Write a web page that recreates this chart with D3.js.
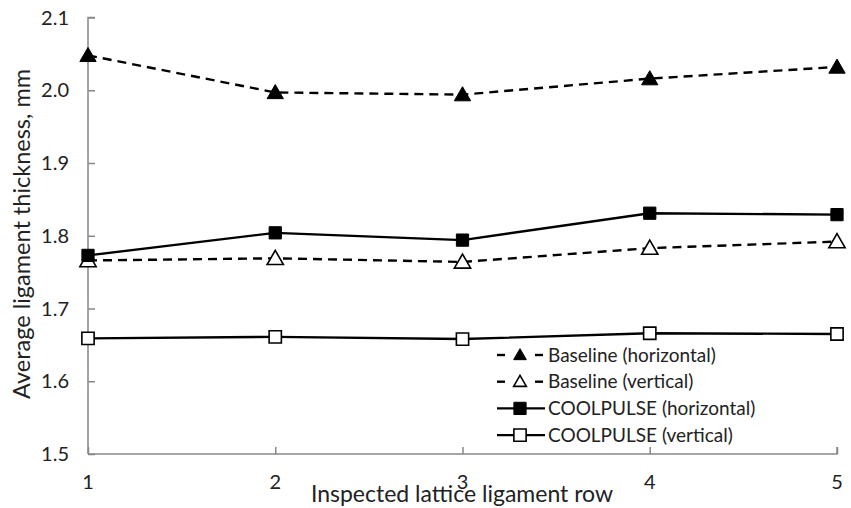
<!DOCTYPE html>
<html>
<head>
<meta charset="utf-8">
<script src="https://cdn.jsdelivr.net/npm/d3@7"></script>
<style>
  body { margin: 0; background: #fff; }
  svg { display: block; font-family: Lato, "Open Sans", sans-serif; }
</style>
</head>
<body>
<div id="app"></div>
<script>

//
// Data
//
const rows = [1, 2, 3, 4, 5]
const yTicks = [1.5, 1.6, 1.7, 1.8, 1.9, 2.0, 2.1]

const baselineHorizontal = [2.048, 1.997, 1.994, 2.016, 2.032]
const baselineVertical = [1.766, 1.769, 1.764, 1.783, 1.792]
const coolpulseHorizontal = [1.773, 1.804, 1.794, 1.831, 1.829]
const coolpulseVertical = [1.659, 1.661, 1.658, 1.666, 1.665]

const seriesNames = [
  'Baseline (horizontal)',
  'Baseline (vertical)',
  'COOLPULSE (horizontal)',
  'COOLPULSE (vertical)'
]

//
// Constants
//
const width = 851
const height = 508
const margin = { top: 17.5, right: 14, bottom: 54, left: 88 }
const axisColor = '#888'
const textColor = '#222'

const series = [
  { name: seriesNames[0], values: baselineHorizontal, dash: '9,6', marker: 'triangle', filled: true },
  { name: seriesNames[1], values: baselineVertical, dash: '9,6', marker: 'triangle', filled: false },
  { name: seriesNames[2], values: coolpulseHorizontal, dash: null, marker: 'square', filled: true },
  { name: seriesNames[3], values: coolpulseVertical, dash: null, marker: 'square', filled: false }
]

//
// Scales
//
const x = d3.scaleLinear()
  .domain([1, 5])
  .range([margin.left, width - margin.right])

const y = d3.scaleLinear()
  .domain([1.5, 2.1])
  .range([height - margin.bottom, margin.top])

const svg = d3.select('#app').append('svg')
  .attr('width', width)
  .attr('height', height)

//
// Axes (ticks inside, Excel style)
//
const yAxis = svg.append('g')
  .attr('transform', `translate(${margin.left},0)`)
  .call(d3.axisRight(y).tickValues(yTicks).tickSize(7).tickFormat(''))
yAxis.select('.domain').attr('d', `M7,${y(2.1)}H0V${y(1.5)}`)

const xAxis = svg.append('g')
  .attr('transform', `translate(0,${y(1.5)})`)
  .call(d3.axisTop(x).tickValues(rows).tickSize(7).tickFormat(''))
xAxis.select('.domain').attr('d', `M${x(1)},0H${x(5)}V-7`)

svg.selectAll('.domain, .tick line')
  .attr('stroke', axisColor)
  .attr('stroke-width', 1.5)

// tick labels
svg.append('g').selectAll('text')
  .data(yTicks)
  .join('text')
  .attr('x', 69)
  .attr('y', d => y(d))
  .attr('dy', '0.35em')
  .attr('text-anchor', 'end')
  .attr('font-size', 20)
  .attr('fill', textColor)
  .text(d => d3.format('.1f')(d))

svg.append('g').selectAll('text')
  .data(rows)
  .join('text')
  .attr('x', d => x(d))
  .attr('y', 489)
  .attr('text-anchor', 'middle')
  .attr('font-size', 20)
  .attr('fill', textColor)
  .text(d => d)

// axis titles
svg.append('text')
  .attr('x', 462)
  .attr('y', 502)
  .attr('text-anchor', 'middle')
  .attr('font-size', 23)
  .attr('fill', textColor)
  .text('Inspected lattice ligament row')

svg.append('text')
  .attr('transform', `translate(30,234) rotate(-90)`)
  .attr('text-anchor', 'middle')
  .attr('font-size', 23.5)
  .attr('fill', textColor)
  .text('Average ligament thickness, mm')

//
// Markers
//
const triangle = d3.symbol().type(d3.symbolTriangle)
const square = d3.symbol().type(d3.symbolSquare)

function drawMarker(sel, s, small) {
  const size = s.marker === 'triangle' ? (small ? 70 : 115) : 150
  sel.append('path')
    .attr('d', s.marker === 'triangle' ? triangle.size(size)() : square.size(size)())
    .attr('fill', s.filled ? '#000' : '#fff')
    .attr('stroke', '#000')
    .attr('stroke-width', s.filled ? 1 : 1.6)
}

//
// Lines
//
const line = d3.line()
  .x((d, i) => x(rows[i]))
  .y(d => y(d))

series.forEach(s => {
  svg.append('path')
    .attr('d', line(s.values))
    .attr('fill', 'none')
    .attr('stroke', '#000')
    .attr('stroke-width', 2.4)
    .attr('stroke-dasharray', s.dash)

  svg.append('g').selectAll('g')
    .data(s.values)
    .join('g')
    .attr('transform', (d, i) => `translate(${x(rows[i])},${y(d) + (s.marker === 'triangle' ? 1.5 : 0)})`)
    .each(function() { drawMarker(d3.select(this), s, false) })
})

//
// Legend
//
const legend = svg.append('g')
  .attr('transform', 'translate(497,355)')

series.forEach((s, i) => {
  const g = legend.append('g').attr('transform', `translate(0,${i * 26.7})`)
  if (s.dash) {
    g.append('line').attr('x1', 0).attr('x2', 8).attr('stroke', '#000').attr('stroke-width', 2.4)
    g.append('line').attr('x1', 38).attr('x2', 46).attr('stroke', '#000').attr('stroke-width', 2.4)
  } else {
    g.append('line').attr('x1', 0).attr('x2', 48).attr('stroke', '#000').attr('stroke-width', 2.4)
  }
  const m = g.append('g').attr('transform', `translate(23,${s.marker === 'triangle' ? 1 : 0})`)
  drawMarker(m, s, true)
  g.append('text')
    .attr('x', 51)
    .attr('dy', '0.35em')
    .attr('font-size', 19)
    .attr('fill', textColor)
    .text(s.name)
})

</script>
</body>
</html>
